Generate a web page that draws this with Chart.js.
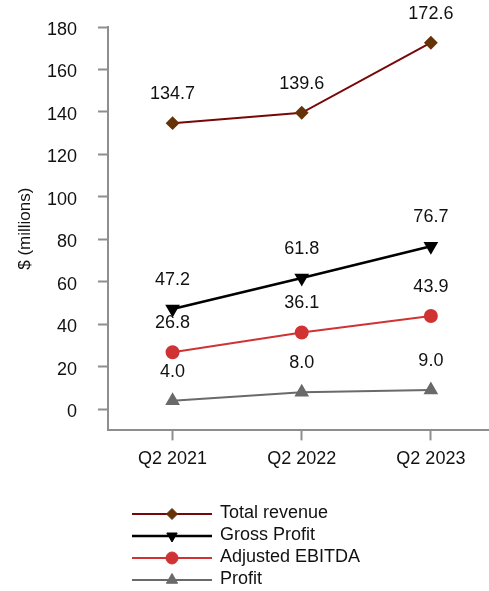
<!DOCTYPE html>
<html>
<head>
<meta charset="utf-8">
<script src="https://cdn.jsdelivr.net/npm/chart.js@4"></script>
<style>
  body { margin: 0; background: #fff; overflow: hidden; }
  canvas { display: block; }
</style>
</head>
<body>
<canvas id="chart" width="489" height="591"></canvas>
<script>
const categories = ['Q2 2021', 'Q2 2022', 'Q2 2023'];
const totalRevenue = [134.7, 139.6, 172.6];
const grossProfit = [47.2, 61.8, 76.7];
const adjustedEbitda = [26.8, 36.1, 43.9];
const profit = [4.0, 8.0, 9.0];
const yTicks = [0, 20, 40, 60, 80, 100, 120, 140, 160, 180];

const FONT = '"Liberation Sans", Arial, Helvetica, sans-serif';
const AXIS = '#8e8e8e';

const pts = (vals) => vals.map((v, i) => ({ x: i, y: v }));

// value labels above each point
const valueLabels = {
    id: 'valueLabels',
    afterDatasetsDraw(chart) {
        const ctx = chart.ctx;
        ctx.save();
        ctx.font = '18px ' + FONT;
        ctx.fillStyle = '#111';
        ctx.textAlign = 'center';
        ctx.textBaseline = 'middle';
        chart.data.datasets.forEach((ds, di) => {
            chart.getDatasetMeta(di).data.forEach((el, i) => {
                ctx.fillText(ds.data[i].y.toFixed(1), el.x, el.y - 29);
            });
        });
        ctx.restore();
    }
};

// vertical legend with line + marker samples
const lineLegend = {
    id: 'lineLegend',
    afterDraw(chart) {
        const ctx = chart.ctx;
        ctx.save();
        chart.data.datasets.forEach((ds, i) => {
            const y = 514 + i * 22;
            ctx.strokeStyle = ds.borderColor;
            ctx.lineWidth = ds.borderWidth;
            ctx.beginPath();
            ctx.moveTo(132, y);
            ctx.lineTo(212, y);
            ctx.stroke();
            ctx.fillStyle = ds.pointBackgroundColor;
            ctx.strokeStyle = ds.pointBorderColor;
            ctx.lineWidth = 1;
            Chart.helpers.drawPoint(ctx, {
                pointStyle: ds.pointStyle,
                radius: ds.pointRadius,
                rotation: ds.pointRotation || 0,
                borderWidth: 1
            }, 172, y);
            ctx.fillStyle = '#111';
            ctx.font = '18px ' + FONT;
            ctx.textAlign = 'left';
            ctx.textBaseline = 'middle';
            ctx.fillText(ds.label, 220, y - 1);
        });
        ctx.restore();
    }
};

new Chart(document.getElementById('chart'), {
    type: 'line',
    data: {
        datasets: [{
            label: 'Total revenue',
            data: pts(totalRevenue),
            borderColor: '#780808',
            borderWidth: 2,
            pointStyle: 'rectRot',
            pointRadius: 5.5,
            pointBackgroundColor: '#663208',
            pointBorderColor: '#663208'
        }, {
            label: 'Gross Profit',
            data: pts(grossProfit),
            borderColor: '#000',
            borderWidth: 2.5,
            pointStyle: 'triangle',
            pointRotation: 180,
            pointRadius: 6,
            pointBackgroundColor: '#000',
            pointBorderColor: '#000'
        }, {
            label: 'Adjusted EBITDA',
            data: pts(adjustedEbitda),
            borderColor: '#d03333',
            borderWidth: 2,
            pointStyle: 'circle',
            pointRadius: 6,
            pointBackgroundColor: '#d03333',
            pointBorderColor: '#d03333'
        }, {
            label: 'Profit',
            data: pts(profit),
            borderColor: '#6a6a6a',
            borderWidth: 2,
            pointStyle: 'triangle',
            pointRadius: 6.5,
            pointBackgroundColor: '#6a6a6a',
            pointBorderColor: '#6a6a6a'
        }]
    },
    options: {
        responsive: false,
        animation: false,
        layout: {
            autoPadding: false,
            padding: { top: 27, right: 0, bottom: 113, left: 0 }
        },
        plugins: {
            legend: { display: false },
            tooltip: { enabled: false }
        },
        scales: {
            x: {
                type: 'linear',
                min: -0.5,
                max: 2.45,
                afterBuildTicks: (scale) => {
                    scale.ticks = categories.map((c, i) => ({ value: i }));
                },
                ticks: {
                    callback: (v) => categories[v],
                    font: { family: FONT, size: 18 },
                    color: '#111',
                    padding: 8,
                    maxRotation: 0
                },
                grid: {
                    drawOnChartArea: false,
                    tickLength: 10,
                    tickWidth: 2,
                    tickColor: AXIS
                },
                border: { color: AXIS, width: 2 }
            },
            y: {
                min: -10,
                max: 180,
                afterBuildTicks: (scale) => {
                    scale.ticks = yTicks.map(v => ({ value: v }));
                },
                afterFit: (scale) => {
                    scale.width = 108;
                    scale.paddingTop = 0;
                    scale.paddingBottom = 0;
                },
                ticks: {
                    font: { family: FONT, size: 18 },
                    color: '#111',
                    padding: 21,
                    labelOffset: 3
                },
                title: {
                    display: true,
                    text: '$ (millions)',
                    font: { family: FONT, size: 17 },
                    color: '#111',
                    padding: { top: 15, bottom: 0 }
                },
                grid: {
                    drawOnChartArea: false,
                    tickLength: 10,
                    tickWidth: 2,
                    tickColor: AXIS
                },
                border: { color: AXIS, width: 2 }
            }
        }
    },
    plugins: [valueLabels, lineLegend]
});
</script>
</body>
</html>
